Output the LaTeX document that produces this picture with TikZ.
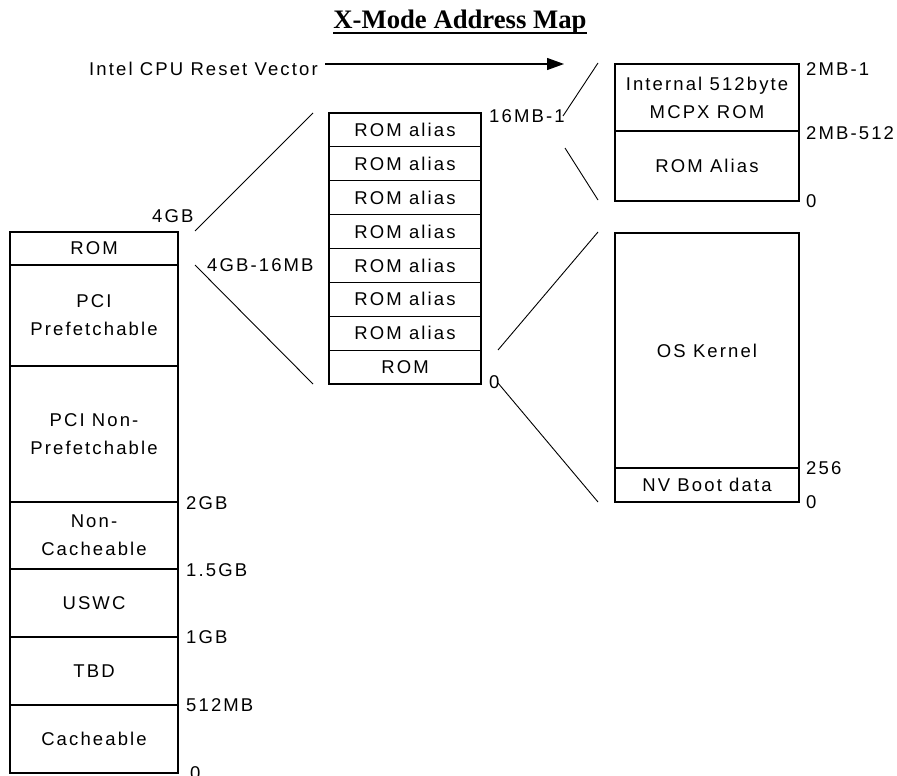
\documentclass[tikz,border=0pt]{standalone}
\usepackage{fontspec}
\setmainfont{Liberation Sans}[LetterSpace=11.5]
\newfontfamily\titlefont{Liberation Serif}[BoldFont={Liberation Serif Bold}]
\usetikzlibrary{arrows.meta}

\newcommand\bodyfont{\fontsize{18.5}{28}\selectfont}

\tikzset{
  cell/.style={draw, line width=1.1pt, anchor=north west, inner sep=0pt,
    outer sep=0pt, align=center, font=\bodyfont},
  addr/.style={anchor=west, inner sep=0pt, font=\bodyfont},
  zoomline/.style={line width=0.9pt},
}

% \memcell{name}{x}{y}{width}{height}{text}
\newcommand\memcell[6]{%
  \node[cell, minimum width=#4pt, minimum height=#5pt] (#1) at (#2,#3) {#6};}

\begin{document}
\begin{tikzpicture}[x=1pt, y=-1pt]
\useasboundingbox (0,0) rectangle (897,776);

% title
\node[anchor=base, inner sep=0pt, font=\titlefont\bfseries\fontsize{26.7}{30}\selectfont]
  (title) at (460,29) {X-Mode Address Map};
\draw[line width=1.5pt] ([yshift=-4pt]title.base west) -- ([yshift=-4pt]title.base east);

% full 4GB address space
\memcell{rom}{10}{232}{168}{33}{ROM}
\memcell{pcipf}{10}{265}{168}{101}{PCI\\Prefetchable}
\memcell{pcinpf}{10}{366}{168}{136}{PCI Non-\\Prefetchable}
\memcell{noncache}{10}{502}{168}{67}{Non-\\Cacheable}
\memcell{uswc}{10}{569}{168}{68}{USWC}
\memcell{tbd}{10}{637}{168}{68}{TBD}
\memcell{cache}{10}{705}{168}{68}{Cacheable}

\node[addr] (l4gb) at (152,216) {4GB};
\node[addr] (l4gb16) at (207,265) {4GB-16MB};
\node[addr] (l2gb) at (186,503) {2GB};
\node[addr] (l15gb) at (186,570) {1.5GB};
\node[addr] (l1gb) at (186,637) {1GB};
\node[addr] (l512) at (186,705) {512MB};
\node[addr] (l0a) at (190,773) {0};

% top 16MB: ROM and its aliases
\foreach \i/\t in {0/ROM alias,1/ROM alias,2/ROM alias,3/ROM alias,
                   4/ROM alias,5/ROM alias,6/ROM alias,7/ROM}{
  \memcell{alias\i}{329}{113+33.875*\i}{152}{33.875}{\t}
}
\node[addr] (l16m) at (489,116) {16MB-1};
\node[addr] (l0b) at (489,382) {0};

% top 2MB
\memcell{mcpx}{615}{64}{184}{67}{Internal 512byte\\MCPX ROM}
\memcell{romalias}{615}{131}{184}{70}{ROM Alias}
\node[addr] (l2m) at (806,69) {2MB-1};
\node[addr] (l2m512) at (806,133) {2MB-512};
\node[addr] (l0c) at (806,201) {0};

% flash ROM contents
\memcell{kernel}{615}{233}{184}{235}{OS Kernel}
\memcell{nvboot}{615}{468}{184}{34}{NV Boot data}
\node[addr] (l256) at (806,468) {256};
\node[addr] (l0d) at (806,502) {0};

% reset vector
\node[addr] (reset) at (89,69) {Intel CPU Reset Vector};
\coordinate (resettip) at (564,64);
\draw[line width=1.2pt, -{Triangle[length=17pt,width=12pt]}] (325,64) -- (resettip);

% expansion lines
\coordinate (a1) at (195,231); \coordinate (a2) at (313,113);
\coordinate (b1) at (195,265); \coordinate (b2) at (313,384);
\coordinate (c1) at (563,116); \coordinate (c2) at (598,63);
\coordinate (d1) at (565,148); \coordinate (d2) at (598,200);
\coordinate (e1) at (498,350); \coordinate (e2) at (598,232);
\coordinate (f1) at (498,383); \coordinate (f2) at (598,502);
\draw[zoomline] (a1) -- (a2);
\draw[zoomline] (b1) -- (b2);
\draw[zoomline] (c1) -- (c2);
\draw[zoomline] (d1) -- (d2);
\draw[zoomline] (e1) -- (e2);
\draw[zoomline] (f1) -- (f2);
\end{tikzpicture}
\end{document}
